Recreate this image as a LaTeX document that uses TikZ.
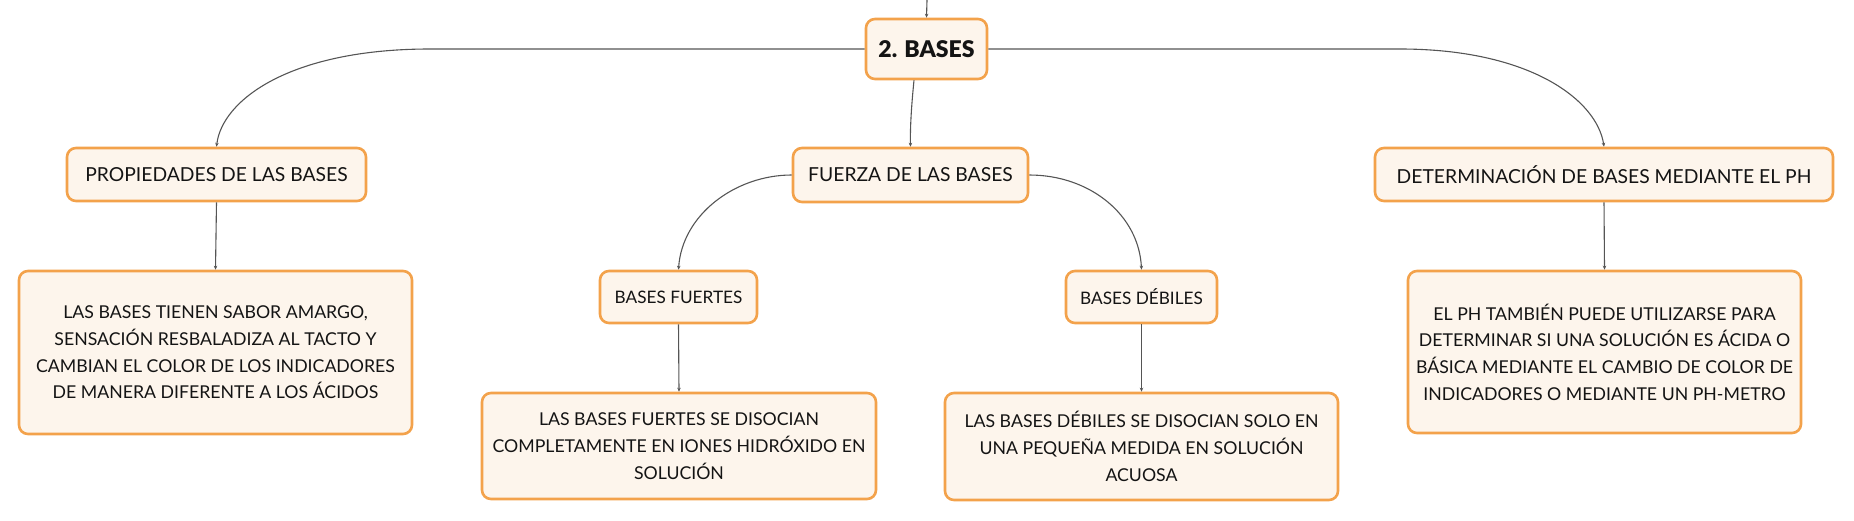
\documentclass[tikz,border=0pt]{standalone}
\usepackage{fontspec}
\setmainfont{Lato}
\newfontfamily\rootfont{Lato Black}
\usetikzlibrary{arrows.meta}
\definecolor{boxborder}{HTML}{F3A24B}
\definecolor{boxfill}{HTML}{FDF5EC}
\definecolor{linkcol}{HTML}{555555}
\definecolor{txt}{HTML}{141414}
\begin{document}
\begin{tikzpicture}[x=1pt,y=-1pt,
  box/.style={draw=boxborder,fill=boxfill,line width=2.6pt,rounded corners=9pt,align=center,text=txt,inner sep=0pt},
  mainbox/.style={box,font=\fontsize{19.3}{24}\selectfont},
  smallbox/.style={box,font=\fontsize{17.2}{22}\selectfont},
  detailbox/.style={box,font=\fontsize{17.7}{26.7}\selectfont},
  rootbox/.style={box,font=\fontsize{23}{28}\selectfont\rootfont},
  link/.style={draw=linkcol,line width=1.1pt,-{Stealth[length=4pt,width=3.5pt]}}
]
\useasboundingbox (0,0) rectangle (1854,520);

\node[rootbox,minimum width=121pt,minimum height=60pt] (root) at (926.5,49) {2. BASES};

\node[mainbox,minimum width=299pt,minimum height=53pt] (prop) at (216.5,174.5) {PROPIEDADES DE LAS BASES};
\node[mainbox,minimum width=235pt,minimum height=54pt] (fuerza) at (910.5,175) {FUERZA DE LAS BASES};
\node[mainbox,minimum width=458pt,minimum height=53pt] (det) at (1604,174.5) {DETERMINACIÓN DE BASES MEDIANTE EL PH};

\node[smallbox,minimum width=157pt,minimum height=52pt] (fuertes) at (678.5,297) {BASES FUERTES};
\node[smallbox,minimum width=151pt,minimum height=52pt] (debiles) at (1141.5,297) {BASES DÉBILES};

\node[detailbox,minimum width=393pt,minimum height=163pt] (propd) at (215.5,352.5) {LAS BASES TIENEN SABOR AMARGO,\\SENSACIÓN RESBALADIZA AL TACTO Y\\CAMBIAN EL COLOR DE LOS INDICADORES\\DE MANERA DIFERENTE A LOS ÁCIDOS};
\node[detailbox,minimum width=394pt,minimum height=106pt] (fuertesd) at (679,446) {LAS BASES FUERTES SE DISOCIAN\\COMPLETAMENTE EN IONES HIDRÓXIDO EN\\SOLUCIÓN};
\node[detailbox,minimum width=393pt,minimum height=107pt] (debilesd) at (1141.5,446.5) {LAS BASES DÉBILES SE DISOCIAN SOLO EN\\UNA PEQUEÑA MEDIDA EN SOLUCIÓN\\ACUOSA};
\node[detailbox,minimum width=393pt,minimum height=162pt] (detd) at (1604.5,352) {EL PH TAMBIÉN PUEDE UTILIZARSE PARA\\DETERMINAR SI UNA SOLUCIÓN ES ÁCIDA O\\BÁSICA MEDIANTE EL CAMBIO DE COLOR DE\\INDICADORES O MEDIANTE UN PH-METRO};

\coordinate (top) at (927,0);
\coordinate (lbend) at (430,49);
\coordinate (rbend) at (1400,49);

\draw[link] (top) -- (root.north);
\draw[link] (root.west) -- (lbend) .. controls (290,49) and (222,100) .. (prop.north);
\draw[link] (root.east) -- (rbend) .. controls (1530,49) and (1597,100) .. (det.north);
\draw[link] (root.south -| 914,0) .. controls (912,100) and (910,125) .. (fuerza.north);
\draw[link] (fuerza.west) .. controls (735,175) and (682,215) .. (fuertes.north);
\draw[link] (fuerza.east) .. controls (1090,175) and (1139,215) .. (debiles.north);
\draw[link] (prop.south) -- (propd.north);
\draw[link] (fuertes.south) -- (fuertesd.north);
\draw[link] (debiles.south) -- (debilesd.north);
\draw[link] (det.south) -- (detd.north);
\end{tikzpicture}
\end{document}
